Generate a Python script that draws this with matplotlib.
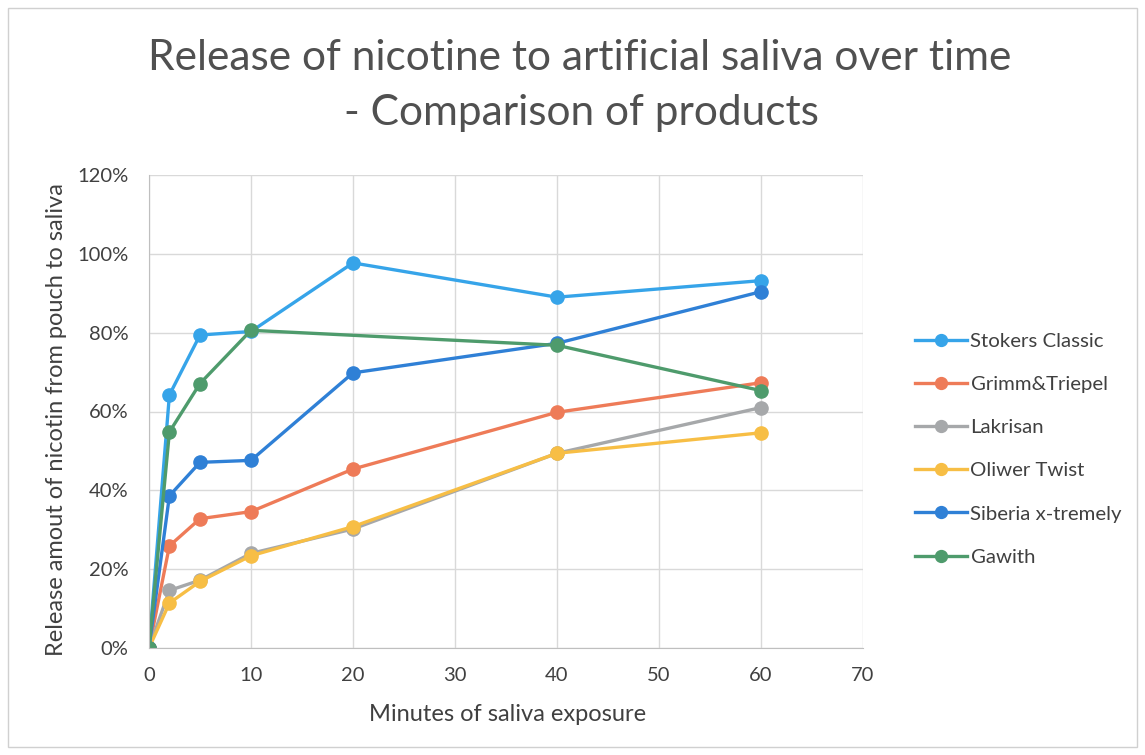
import matplotlib.pyplot as plt
from matplotlib.patches import Rectangle
from matplotlib.ticker import PercentFormatter

plt.rcParams['font.family'] = ['Lato', 'DejaVu Sans']

minutes = [0, 2, 5, 10, 20, 40, 60]
products = ['Stokers Classic', 'Grimm&Triepel', 'Lakrisan', 'Oliwer Twist',
            'Siberia x-tremely', 'Gawith']
stokers = [0, 64.2, 79.4, 80.3, 97.7, 89.0, 93.2]
grimm = [0, 25.9, 32.8, 34.6, 45.4, 59.8, 67.3]
lakrisan = [0, 14.6, 17.2, 24.0, 30.2, 49.4, 61.0]
oliwer = [0, 11.4, 16.9, 23.4, 30.8, 49.4, 54.6]
siberia = [0, 38.6, 47.1, 47.6, 69.8, 77.3, 90.4]
# Gawith has no 20-minute measurement
gawith_x = [0, 2, 5, 10, 40, 60]
gawith = [0, 54.8, 67.1, 80.6, 76.8, 65.3]

series = [stokers, grimm, lakrisan, oliwer, siberia, gawith]
xs = [minutes, minutes, minutes, minutes, minutes, gawith_x]
colors = ['#36A4E9', '#EE7B58', '#A6A8AA', '#F7BE45', '#2F80D6', '#4E9B6C']

fig = plt.figure(figsize=(11.45, 7.55), dpi=100)
ax = fig.add_axes([149 / 1145, 1 - 648 / 755, (863 - 149) / 1145, (648 - 175) / 755])

for x, y, c, name in zip(xs, series, colors, products):
    ax.plot(x, y, color=c, lw=2.4, marker='o', ms=9.5, label=name)

ax.set_xlim(0, 70)
ax.set_ylim(0, 120)
ax.set_xticks(range(0, 71, 10))
ax.set_yticks(range(0, 121, 20))
ax.yaxis.set_major_formatter(PercentFormatter(decimals=0))
ax.grid(True, color='#D9D9D9', lw=1)
ax.set_axisbelow(True)
for s in ['top', 'right']:
    ax.spines[s].set_visible(False)
for s in ['left', 'bottom']:
    ax.spines[s].set_color('#BFBFBF')
ax.tick_params(length=0, labelsize=14.5, colors='#404040')
ax.tick_params(axis='y', pad=15)
ax.tick_params(axis='x', pad=14)

ax.set_xlabel('Minutes of saliva exposure', fontsize=17, color='#404040')
ax.set_ylabel('Release amout of nicotin from pouch to saliva', fontsize=17,
              color='#404040')
ax.xaxis.set_label_coords((508 - 149) / 714, -(704 - 648) / 473)
ax.yaxis.set_label_coords(-(149 - 67) / 714, (648 - 420) / 473)

fig.text(0.506, 1 - 58 / 755, 'Release of nicotine to artificial saliva over time',
         ha='center', va='center', fontsize=30.5, color='#505050')
fig.text(0.508, 1 - 113 / 755, '- Comparison of products',
         ha='center', va='center', fontsize=30.5, color='#505050')

leg = ax.legend(loc='upper left', bbox_to_anchor=(897 / 1145, 1 - 314 / 755),
                bbox_transform=fig.transFigure, frameon=False, fontsize=14.7,
                handlelength=2.55, handletextpad=0.15, labelspacing=1.27,
                markerscale=0.9)
for t in leg.get_texts():
    t.set_color('#404040')

fig.patches.append(Rectangle((8 / 1145, 8 / 755), 1 - 16 / 1145, 1 - 16 / 755,
                             transform=fig.transFigure, fill=False,
                             edgecolor='#D0D0D0', lw=1))

fig.savefig('out.png', dpi=100)
